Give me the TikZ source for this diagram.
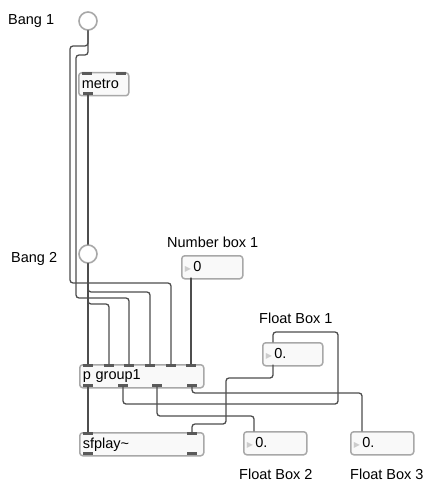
\documentclass[tikz,border=0pt]{standalone}
\usepackage{fontspec}
\setmainfont{Liberation Sans}
\newfontfamily\symfont{DejaVu Sans}
\newcommand{\numtri}{{\symfont\fontsize{8}{8}\selectfont\color{gray!40}▶}}
\definecolor{wiregray}{HTML}{4D4D4D}
\definecolor{boxgray}{HTML}{A8A8A8}
\definecolor{tabgray}{HTML}{5A5A5A}

\begin{document}
\begin{tikzpicture}[x=1pt, y=-1pt, font=\fontsize{14.5}{16}\selectfont, line join=round, line cap=round,
  maxbox/.style={draw=boxgray, fill=gray!5, line width=1.5pt, rounded corners=3pt, inner xsep=3pt, inner ysep=0pt, minimum height=23pt, anchor=north west, align=left},
  bangcirc/.style={circle, draw=boxgray, fill=white, line width=1.6pt, minimum size=18pt, inner sep=0pt},
  tab/.style={fill=tabgray, minimum width=10pt, minimum height=3pt, inner sep=0pt},
  wire/.style={draw=wiregray, line width=1.3pt, rounded corners=3pt},
  lbl/.style={anchor=west, inner sep=0pt}]
			\useasboundingbox (0,0) rectangle (428,484);
			\node[lbl] (bang1lbl) at (8,21) {Bang 1};
			\node[lbl] (bang2lbl) at (11,259) {Bang 2};
			\node[lbl] (nb1lbl) at (167,242) {Number box 1};
			\node[lbl] (fb1lbl) at (259,318) {Float Box 1};
			\node[lbl] (fb2lbl) at (239,474) {Float Box 2};
			\node[lbl] (fb3lbl) at (350,474) {Float Box 3};
			\node[bangcirc] (bang1) at (88,21) {};
			\node[bangcirc] (bang2) at (88,254) {};
			\node[maxbox, text width=44pt] (metro) at (78,72) {metro};
			\node[maxbox, text width=55pt] (nb1) at (181,255) {\numtri\,0};
			\node[maxbox, text width=118pt] (pgroup) at (79,364) {p group1};
			\node[maxbox, text width=118pt] (sfplay) at (79,432) {sfplay\textasciitilde};
			\node[maxbox, text width=54pt] (fb1) at (262,342) {\numtri\,0.};
			\node[maxbox, text width=57pt] (fb2) at (243,431) {\numtri\,0.};
			\node[maxbox, text width=57pt] (fb3) at (350,431) {\numtri\,0.};
			\node[tab, anchor=north] (metroin1) at (87,72) {};
			\node[tab, anchor=north] (metroin2) at (121,72) {};
			\node[tab, anchor=south] (metroout) at (88,95) {};
			\foreach \n/\x in {1/88,2/109,3/129,4/150,5/171,6/191}
			{
				\node[tab, anchor=north] (pgin\n) at (\x,364) {};
			}
			\foreach \n/\x in {1/88,2/123,3/157,4/192}
			{
				\node[tab, anchor=south] (pgout\n) at (\x,387) {};
			}
			\foreach \n/\x in {1/88,2/192}
			{
				\node[tab, anchor=north] (sfin\n) at (\x,432) {};
				\node[tab, anchor=south] (sfout\n) at (\x,455) {};
			}
			\coordinate (nb1out) at (191,278);
			\coordinate (fb1in) at (273,342);
			\coordinate (fb1out) at (273,365);
			\coordinate (fb2in) at (254,431);
			\coordinate (fb3in) at (362,431);
			\draw[wire] (bang1.south) |- (70,46) |- (pgin5.north |- 0,283) -- (pgin5.north);
			\draw[wire] (bang1.south) |- (76,55) |- (pgin3.north |- 0,298) -- (pgin3.north);
			\draw[wire] (metroout.south) -- (bang2.north);
			\draw[wire] (bang2.south) -- (pgin1.north);
			\draw[wire] (bang2.south) |- (pgin4.north |- 0,292) -- (pgin4.north);
			\draw[wire] (bang2.south) |- (pgin2.north |- 0,304) -- (pgin2.north);
			\draw[wire] (nb1out) -- (pgin6.north);
			\draw[wire] (pgout1.south) -- (sfin1.north);
			\draw[wire] (pgout2.south) |- (338,404) |- (fb1in |- 0,332) -- (fb1in);
			\draw[wire] (pgout3.south) |- (fb2in |- 0,416) -- (fb2in);
			\draw[wire] (pgout4.south) |- (fb3in |- 0,393) -- (fb3in);
			\draw[wire] (fb1out) |- (226,378) |- (sfin2.north |- 0,424) -- (sfin2.north);
		\end{tikzpicture}
\end{document}
